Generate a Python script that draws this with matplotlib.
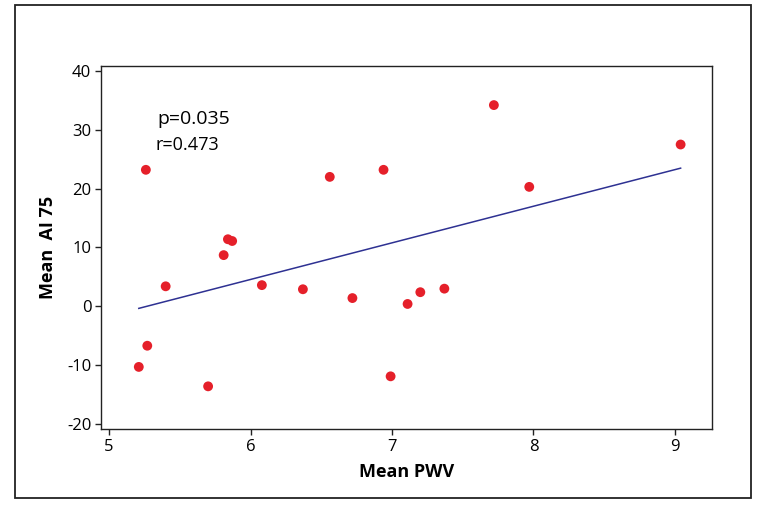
import numpy as np
import matplotlib
matplotlib.use('Agg')
import matplotlib.pyplot as plt
from matplotlib.patches import Rectangle

# Mean PWV vs Mean AI 75
pwv = [5.26, 5.27, 5.21, 5.40, 5.70, 5.81, 5.84, 5.87, 6.08, 6.37,
       6.56, 6.72, 6.94, 6.99, 7.11, 7.20, 7.37, 7.72, 7.97, 9.04]
ai75 = [23.2, -6.7, -10.3, 3.4, -13.6, 8.7, 11.4, 11.1, 3.6, 2.9,
        22.0, 1.4, 23.2, -11.9, 0.4, 2.4, 3.0, 34.2, 20.3, 27.5]
xticks = [5, 6, 7, 8, 9]
yticks = [-20, -10, 0, 10, 20, 30, 40]
stats_p = 'p=0.035'
stats_r = 'r=0.473'

font = ['Open Sans', 'DejaVu Sans']

fig = plt.figure(figsize=(7.63, 5.09), dpi=100)
# outer border around the whole figure
fig.patches.append(Rectangle((15 / 763, 11 / 509), 736 / 763, 493 / 509,
                             transform=fig.transFigure, fill=False,
                             edgecolor='#222222', linewidth=1.3))

ax = fig.add_axes([0.1324, 0.1572, 0.8008, 0.7132])

# regression line over the data range
x = np.array(pwv)
y = np.array(ai75)
slope, icpt = np.polyfit(x, y, 1)
xl = np.array([x.min(), x.max()])
ax.plot(xl, slope * xl + icpt, color='#2E3192', linewidth=1.1, zorder=2)

ax.scatter(x, y, s=50, color='#E5202A', edgecolors='none', zorder=3)

ax.set_xlim(4.943, 9.262)
ax.set_ylim(-20.85, 40.85)
ax.set_xticks(xticks)
ax.set_yticks(yticks)
ax.set_xticklabels([str(v) for v in xticks], family=font, fontsize=12)
ax.set_yticklabels([str(v) for v in yticks], family=font, fontsize=12)
ax.tick_params(direction='out', length=4, width=1, color='#222222', pad=3)
for sp in ax.spines.values():
    sp.set_color('#222222')
    sp.set_linewidth(1.0)

ax.set_xlabel('Mean PWV', family=font, fontsize=13, fontweight='bold', labelpad=6)
ax.set_ylabel('Mean  AI 75', family=font, fontsize=13, fontweight='bold', labelpad=7)

ax.text(5.34, 31.0, stats_p, family=font, fontsize=14, ha='left', va='baseline')
ax.text(5.33, 26.6, stats_r, family=font, fontsize=13, ha='left', va='baseline')

fig.savefig('out.png', dpi=100)
